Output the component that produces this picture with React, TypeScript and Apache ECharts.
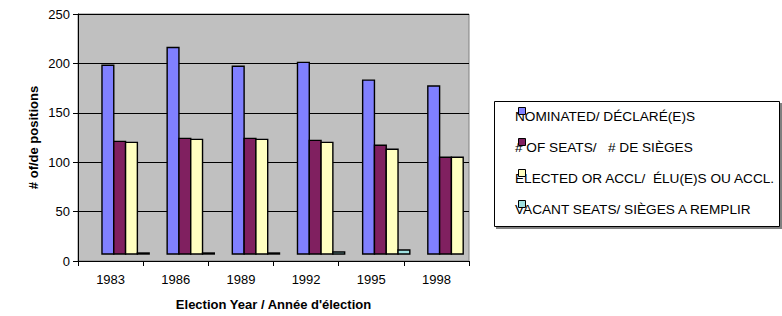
import React, { useEffect, useRef } from "react";
import * as echarts from "echarts";

const categories = ["1983", "1986", "1989", "1992", "1995", "1998"];
// heights of the bars above the chart floor
const nominated = [191, 209, 190, 194, 176, 170];
const seats = [114, 117, 117, 115, 110, 98];
const elected = [113, 116, 116, 113, 106, 98];
const vacant = [1, 1, 1, 2, 4, 0];

const seriesNames = [
  "NOMINATED/ DÉCLARÉ(E)S",
  "# OF SEATS/   # DE SIÈGES",
  "ELECTED OR ACCL/  ÉLU(E)S OU ACCL.",
  "VACANT SEATS/ SIÈGES A REMPLIR",
];
const seriesData = [nominated, seats, elected, vacant];
const colors = ["#8080FF", "#802060", "#FFFFC0", "#A0E0E0"];

const yTicks = { min: 0, max: 250, interval: 50 };

const FONT = "'Liberation Sans', Arial, Helvetica, sans-serif";
const FLOOR_PX = 7;
const GROUP_OFFSET = 0.368;
const BAR_FRAC = 0.181;

export default function App() {
  const ref = useRef<HTMLDivElement>(null);
  useEffect(() => {
    if (!ref.current) return;
    const chart = echarts.init(ref.current, undefined, { renderer: "svg" });

    const series = seriesData.map((arr, k) => ({
      type: "custom",
      name: seriesNames[k],
      encode: { x: 0, y: 1 },
      data: arr.map((v, i) => [i, v]),
      z: 5,
      renderItem: (params: any, api: any) => {
        const i = api.value(0);
        const v = api.value(1);
        if (!(v > 0)) return null;
        const base = api.coord([i, 0]);
        const band = api.size([1, 0])[0];
        const h = api.size([0, v])[1];
        const w = band * BAR_FRAC;
        const left = base[0] - band / 2 + band * GROUP_OFFSET + k * w;
        return {
          type: "rect",
          shape: { x: left, y: base[1] - FLOOR_PX - h, width: w, height: h },
          style: { fill: colors[k], stroke: "#000", lineWidth: 1.4 },
        };
      },
    }));

    const legendTop = 117;
    const legendStep = 31;
    const legendGraphics: any[] = [
      { type: "rect", shape: { x: 496, y: 103, width: 286, height: 126 }, style: { fill: "#808080" }, z: 1 },
      { type: "rect", shape: { x: 494.5, y: 101.5, width: 285, height: 125 }, style: { fill: "#fff", stroke: "#000", lineWidth: 1 }, z: 2 },
    ];
    seriesNames.forEach((n, k) => {
      const cy = legendTop + k * legendStep;
      legendGraphics.push({
        type: "text",
        x: 515,
        y: cy,
        scaleX: 1.05,
        z: 3,
        style: { text: n, font: `13px ${FONT}`, fill: "#000", verticalAlign: "middle", align: "left" },
      });
      legendGraphics.push({
        type: "rect",
        z: 4,
        shape: { x: 518.5, y: cy - 9.5, width: 7, height: 7 },
        style: { fill: colors[k], stroke: "#000", lineWidth: 1 },
      });
    });

    chart.setOption({
      animation: false,
      backgroundColor: "#fff",
      grid: {
        left: 78,
        right: 313,
        top: 14,
        bottom: 52,
        show: true,
        backgroundColor: "#C0C0C0",
        borderColor: "#808080",
        borderWidth: 1,
      },
      xAxis: {
        type: "category",
        data: categories,
        boundaryGap: true,
        axisLine: { lineStyle: { color: "#000", width: 1 } },
        axisTick: { show: true, interval: 0, length: 5, lineStyle: { color: "#000" } },
        axisLabel: { color: "#000", fontSize: 13, fontFamily: FONT, margin: 12 },
        name: "Election Year / Année d'élection",
        nameLocation: "middle",
        nameGap: 37,
        nameTextStyle: { color: "#000", fontSize: 13, fontWeight: "bold", fontFamily: FONT },
      },
      yAxis: {
        type: "value",
        min: yTicks.min,
        max: yTicks.max,
        interval: yTicks.interval,
        axisLine: { show: true, lineStyle: { color: "#000", width: 1 } },
        axisTick: { show: true, length: 5, lineStyle: { color: "#000" } },
        axisLabel: { color: "#000", fontSize: 13, fontFamily: FONT, margin: 8 },
        splitLine: { show: true, lineStyle: { color: "#000", width: 1 } },
        name: "# of/de positions",
        nameLocation: "middle",
        nameGap: 38,
        nameTextStyle: { color: "#000", fontSize: 13, fontWeight: "bold", fontFamily: FONT },
      },
      graphic: legendGraphics,
      series,
    });
    return () => chart.dispose();
  }, []);
  return <div ref={ref} style={{ width: 782, height: 316, position: "absolute", left: 0, top: 0 }} />;
}
